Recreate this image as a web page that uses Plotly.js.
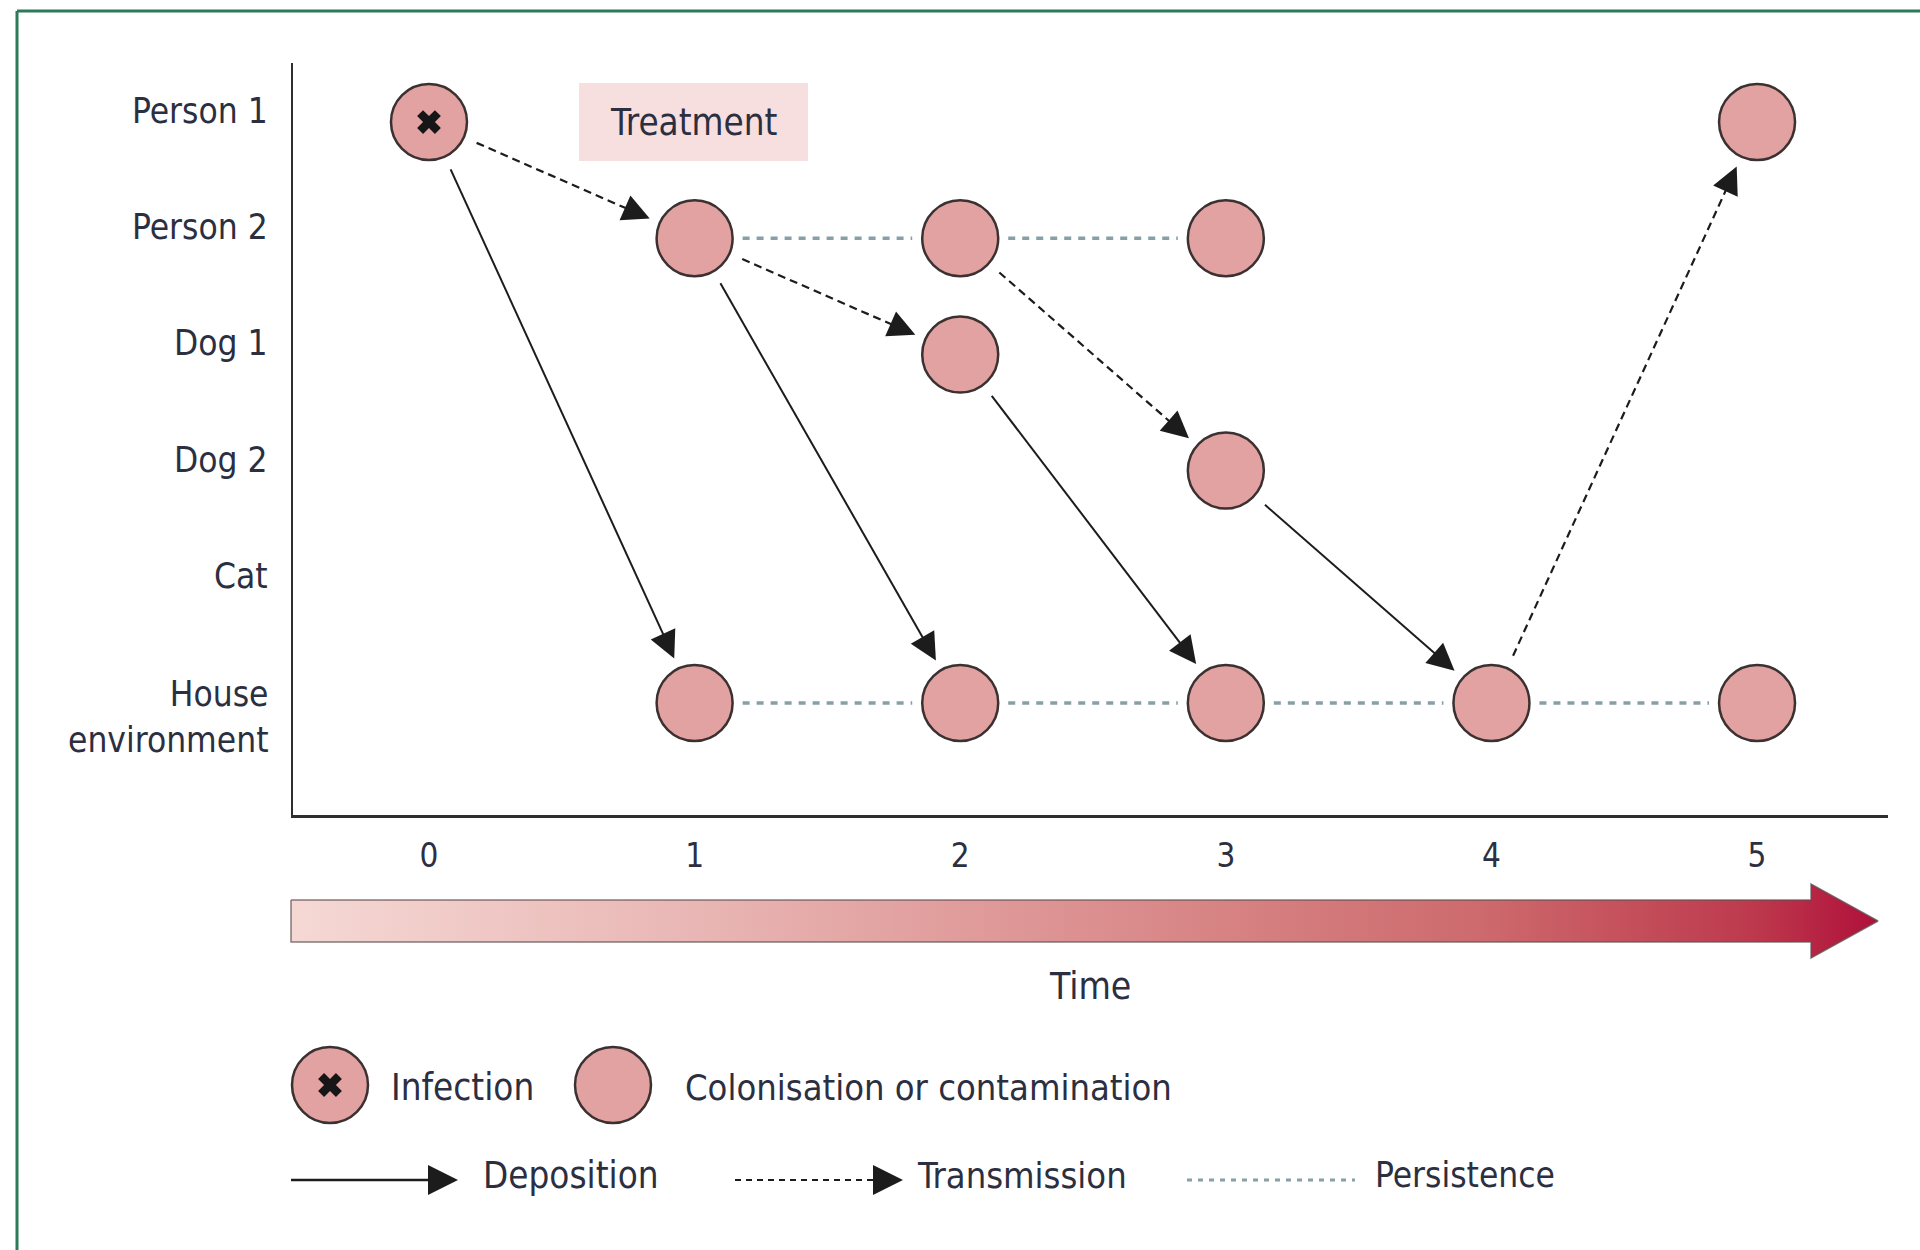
<!DOCTYPE html>
<html>
<head>
<meta charset="utf-8">
<script src="https://cdn.plot.ly/plotly-3.0.1.min.js"></script>
<style>
  html, body { margin: 0; padding: 0; background: #ffffff; }
  #chart { width: 1920px; height: 1250px; }
</style>
</head>
<body>
<div id="chart"></div>
<script>
// ---------------- DATA ----------------
const timePoints = [0, 1, 2, 3, 4, 5];
const timeTickLabels = ['0', '1', '2', '3', '4', '5'];
const hosts = ['Person 1', 'Person 2', 'Dog 1', 'Dog 2', 'Cat', 'House environment'];
const hostLabels = ['Person 1', 'Person 2', 'Dog 1', 'Dog 2', 'Cat', 'House<br>environment'];

// Infection nodes
const infectionHost = ['Person 1'];
const infectionTime = [0];

// Colonisation or contamination nodes
const colonisationHost = ['Person 1', 'Person 2', 'Person 2', 'Person 2', 'Dog 1', 'Dog 2',
  'House environment', 'House environment', 'House environment', 'House environment', 'House environment'];
const colonisationTime = [5, 1, 2, 3, 2, 3, 1, 2, 3, 4, 5];

// Deposition (solid arrows)
const depositionFromHost = ['Person 1', 'Person 2', 'Dog 1', 'Dog 2'];
const depositionFromTime = [0, 1, 2, 3];
const depositionToHost = ['House environment', 'House environment', 'House environment', 'House environment'];
const depositionToTime = [1, 2, 3, 4];

// Transmission (dashed arrows)
const transmissionFromHost = ['Person 1', 'Person 2', 'Person 2', 'House environment'];
const transmissionFromTime = [0, 1, 2, 4];
const transmissionToHost = ['Person 2', 'Dog 1', 'Dog 2', 'Person 1'];
const transmissionToTime = [1, 2, 3, 5];

// Persistence (dotted, no arrow)
const persistenceHost = ['Person 2', 'Person 2', 'House environment', 'House environment', 'House environment', 'House environment'];
const persistenceFromTime = [1, 2, 1, 2, 3, 4];
const persistenceToTime = [2, 3, 2, 3, 4, 5];

// Treatment period (on Person 1 row)
const treatmentLabel = 'Treatment';
const treatmentHost = 'Person 1';
const treatmentStart = 0.565;
const treatmentEnd = 1.427;

const axisTitle = 'Time';
const legendNodeLabels = ['Infection', 'Colonisation or contamination'];
const legendEdgeLabels = ['Deposition', 'Transmission', 'Persistence'];

// ---------------- STYLE / LAYOUT ----------------
const W = 1920, H = 1250;
const X_DOMAIN = [293 / W, 1888 / W];
const X_RANGE = [-0.512, 5.493];
const Y_DOMAIN = [1 - 815 / H, 1 - 63 / H];
const Y_RANGE = [5.964, -0.508];
const pxX = (X_DOMAIN[1] - X_DOMAIN[0]) * W / (X_RANGE[1] - X_RANGE[0]);
const pxY = (Y_DOMAIN[1] - Y_DOMAIN[0]) * H / (Y_RANGE[0] - Y_RANGE[1]);

function hasFont(name) {
  const c = document.createElement('canvas').getContext('2d');
  const t = 'Colonisation or contamination 0123 Wy';
  let r = false;
  ['monospace', 'serif'].forEach(fb => {
    c.font = '40px ' + fb; const a = c.measureText(t).width;
    c.font = '40px "' + name + '", ' + fb; const b = c.measureText(t).width;
    if (Math.abs(a - b) > 0.5) r = true;
  });
  return r;
}
const FONT_CANDIDATES = ['DejaVu Sans Condensed', 'Liberation Sans Narrow', 'Roboto Condensed', 'Roboto'];
const FONT_NAME = FONT_CANDIDATES.find(hasFont) || 'Roboto';
const FONT = '"' + FONT_NAME + '", Roboto, sans-serif';
const TEXT = '#2c2f3f';

const NODE_FILL = '#e2a2a2';
const NODE_EDGE = '#3b3131';
const NODE_SIZE = 76;
const LINE_BLACK = '#1c1c1c';
const PERSIST_COLOR = '#86a0a6';

const START_GAP = 52, END_GAP = 49, HEAD_SCALE = 2.7, HEAD_W = 2;

const row = h => hosts.indexOf(h);

function unitPx(x0, y0, x1, y1, sx, sy) {
  const dx = (x1 - x0) * sx, dy = (y1 - y0) * sy;
  const L = Math.hypot(dx, dy);
  return [dx / L, dy / L];
}

// build line segments (with nulls) and arrowhead annotations
function buildEdges(x0s, y0s, x1s, y1s, sx, sy, withHead, xref, yref, headScale) {
  const xs = [], ys = [], heads = [];
  const hl = 5 * headScale * HEAD_W;
  for (let i = 0; i < x0s.length; i++) {
    const x0 = x0s[i], y0 = y0s[i], x1 = x1s[i], y1 = y1s[i];
    const [ux, uy] = unitPx(x0, y0, x1, y1, sx, sy);
    const sg = withHead ? START_GAP : 48;
    const eg = withHead ? END_GAP + hl * 0.6 : 48;
    xs.push(x0 + ux * sg / sx, x1 - ux * eg / sx, null);
    ys.push(y0 + uy * sg / sy, y1 - uy * eg / sy, null);
    if (withHead) {
      heads.push({
        x: x1, y: y1, xref: xref, yref: yref,
        ax: x1 - ux * (END_GAP + hl) / sx, ay: y1 - uy * (END_GAP + hl) / sy,
        axref: xref, ayref: yref, text: '', font: {size: 1},
        showarrow: true, arrowhead: 2, arrowsize: headScale, arrowwidth: HEAD_W,
        arrowcolor: LINE_BLACK, standoff: END_GAP
      });
    }
  }
  return {xs, ys, heads};
}

const dep = buildEdges(depositionFromTime, depositionFromHost.map(row), depositionToTime, depositionToHost.map(row), pxX, pxY, true, 'x', 'y', HEAD_SCALE);
const trn = buildEdges(transmissionFromTime, transmissionFromHost.map(row), transmissionToTime, transmissionToHost.map(row), pxX, pxY, true, 'x', 'y', HEAD_SCALE);
const per = buildEdges(persistenceFromTime, persistenceHost.map(row), persistenceToTime, persistenceHost.map(row), pxX, pxY, false, 'x', 'y', HEAD_SCALE);

const traces = [];
traces.push({type: 'scatter', mode: 'lines', x: per.xs, y: per.ys, xaxis: 'x', yaxis: 'y',
  line: {color: PERSIST_COLOR, width: 3.5, dash: '7px,7px'}, hoverinfo: 'skip'});
traces.push({type: 'scatter', mode: 'lines', x: trn.xs, y: trn.ys, xaxis: 'x', yaxis: 'y',
  line: {color: LINE_BLACK, width: 2.2, dash: '8px,5px'}, hoverinfo: 'skip'});
traces.push({type: 'scatter', mode: 'lines', x: dep.xs, y: dep.ys, xaxis: 'x', yaxis: 'y',
  line: {color: LINE_BLACK, width: 2}, hoverinfo: 'skip'});
traces.push({type: 'scatter', mode: 'markers', x: colonisationTime.concat(infectionTime),
  y: colonisationHost.concat(infectionHost).map(row), xaxis: 'x', yaxis: 'y', cliponaxis: false,
  marker: {size: NODE_SIZE, color: NODE_FILL, line: {color: NODE_EDGE, width: 2.5}}, hoverinfo: 'skip'});
traces.push({type: 'scatter', mode: 'markers', x: infectionTime, y: infectionHost.map(row), xaxis: 'x', yaxis: 'y',
  marker: {size: 21, symbol: 'x', color: '#161616', line: {width: 0}}, hoverinfo: 'skip'});

// ---- overlay pixel axes (x3/y3) for time arrow and legend ----
const arrowPts = {x: [291, 1811, 1811, 1878, 1811, 1811, 291, 291],
                  y: [900, 900, 884, 921, 958, 942, 942, 900]};
traces.push({type: 'scatter', mode: 'lines', x: arrowPts.x, y: arrowPts.y, xaxis: 'x3', yaxis: 'y3',
  fill: 'toself', fillgradient: {type: 'horizontal',
    colorscale: [[0, '#f5d8d4'], [0.25, '#e9b7b5'], [0.5, '#dc9090'], [0.75, '#cd6a6d'], [0.92, '#bd3a4d'], [1, '#b0103a']]},
  line: {color: 'rgba(95,80,80,0.75)', width: 1.5}, hoverinfo: 'skip'});

// legend nodes
const LEG_Y1 = 1085, LEG_Y2 = 1180;
const legendNodeX = [330, 613];
traces.push({type: 'scatter', mode: 'markers', x: legendNodeX, y: [LEG_Y1, LEG_Y1], xaxis: 'x3', yaxis: 'y3',
  marker: {size: NODE_SIZE, color: NODE_FILL, line: {color: NODE_EDGE, width: 2.5}}, hoverinfo: 'skip'});
traces.push({type: 'scatter', mode: 'markers', x: [legendNodeX[0]], y: [LEG_Y1], xaxis: 'x3', yaxis: 'y3',
  marker: {size: 21, symbol: 'x', color: '#161616', line: {width: 0}}, hoverinfo: 'skip'});

// legend edges
const legDep = buildEdges([291], [LEG_Y2], [458 + END_GAP], [LEG_Y2], 1, 1, true, 'x3', 'y3', 3);
const legTrn = buildEdges([735], [LEG_Y2], [903 + END_GAP], [LEG_Y2], 1, 1, true, 'x3', 'y3', 3);
legDep.xs[0] = 291; legTrn.xs[0] = 735;
traces.push({type: 'scatter', mode: 'lines', x: legDep.xs, y: legDep.ys, xaxis: 'x3', yaxis: 'y3',
  line: {color: LINE_BLACK, width: 2.5}, hoverinfo: 'skip'});
traces.push({type: 'scatter', mode: 'lines', x: legTrn.xs, y: legTrn.ys, xaxis: 'x3', yaxis: 'y3',
  line: {color: LINE_BLACK, width: 2.2, dash: '6px,5px'}, hoverinfo: 'skip'});
traces.push({type: 'scatter', mode: 'lines', x: [1187, 1355], y: [LEG_Y2, LEG_Y2], xaxis: 'x3', yaxis: 'y3',
  line: {color: PERSIST_COLOR, width: 3, dash: '5px,6px'}, hoverinfo: 'skip'});

// ---------------- ANNOTATIONS ----------------
const annotations = [];
hostLabels.forEach((lab, i) => {
  const multi = lab.indexOf('<br>') >= 0;
  annotations.push({x: 270 / W, xref: 'paper', xanchor: 'right', y: i, yref: 'y', yanchor: 'middle',
    yshift: multi ? -14 : 11, text: lab, showarrow: false, align: 'right',
    font: {family: FONT, size: 35, color: TEXT}});
});
annotations.push({x: (treatmentStart + treatmentEnd) / 2, y: row(treatmentHost), xref: 'x', yref: 'y',
  text: treatmentLabel, showarrow: false, font: {family: FONT, size: 36.5, color: TEXT}});
annotations.push({x: 1090, y: 986, xref: 'x3', yref: 'y3', text: axisTitle, showarrow: false,
  font: {family: FONT, size: 37, color: TEXT}});
annotations.push({x: 389, y: 1087, xref: 'x3', yref: 'y3', xanchor: 'left', text: legendNodeLabels[0], showarrow: false,
  font: {family: FONT, size: 36.5, color: TEXT}});
annotations.push({x: 683, y: 1087, xref: 'x3', yref: 'y3', xanchor: 'left', text: legendNodeLabels[1], showarrow: false,
  font: {family: FONT, size: 36, color: TEXT}});
annotations.push({x: 481, y: 1175, xref: 'x3', yref: 'y3', xanchor: 'left', text: legendEdgeLabels[0], showarrow: false,
  font: {family: FONT, size: 36.5, color: TEXT}});
annotations.push({x: 915, y: 1175, xref: 'x3', yref: 'y3', xanchor: 'left', text: legendEdgeLabels[1], showarrow: false,
  font: {family: FONT, size: 36, color: TEXT}});
annotations.push({x: 1373, y: 1175, xref: 'x3', yref: 'y3', xanchor: 'left', text: legendEdgeLabels[2], showarrow: false,
  font: {family: FONT, size: 35, color: TEXT}});
dep.heads.concat(trn.heads, legDep.heads, legTrn.heads).forEach(a => annotations.push(a));

// ---------------- SHAPES ----------------
const shapes = [
  {type: 'rect', xref: 'x', yref: 'y', x0: treatmentStart, x1: treatmentEnd,
   y0: row(treatmentHost) - 0.336, y1: row(treatmentHost) + 0.336,
   fillcolor: '#f7dfdf', line: {width: 0}, layer: 'below'},
  {type: 'line', xref: 'paper', yref: 'paper', x0: 17 / W, x1: 1, y0: 1 - 11 / H, y1: 1 - 11 / H,
   line: {color: '#2d7a58', width: 3}},
  {type: 'line', xref: 'paper', yref: 'paper', x0: 17 / W, x1: 17 / W, y0: 0, y1: 1 - 11 / H,
   line: {color: '#2d7a58', width: 3}}
];

const layout = {
  width: W, height: H,
  margin: {l: 0, r: 0, t: 0, b: 0, pad: 0},
  paper_bgcolor: '#ffffff', plot_bgcolor: 'rgba(0,0,0,0)',
  showlegend: false, hovermode: false,
  font: {family: FONT, color: TEXT},
  xaxis: {domain: X_DOMAIN, range: X_RANGE, anchor: 'y', showgrid: false, zeroline: false,
    showline: true, linecolor: '#2e2e2e', linewidth: 3, ticks: '',
    tickmode: 'array', tickvals: timePoints, ticktext: timeTickLabels,
    tickfont: {family: FONT, size: 33, color: TEXT}, ticklabelstandoff: 9, fixedrange: true},
  yaxis: {domain: Y_DOMAIN, range: Y_RANGE, anchor: 'x', showgrid: false, zeroline: false,
    showline: true, linecolor: '#2e2e2e', linewidth: 2.5, ticks: '', showticklabels: false, fixedrange: true},
  xaxis3: {domain: [0, 1], range: [0, W], anchor: 'y3', visible: false, fixedrange: true},
  yaxis3: {domain: [0, 1], range: [H, 0], anchor: 'x3', visible: false, fixedrange: true},
  annotations: annotations,
  shapes: shapes
};

Plotly.newPlot('chart', traces, layout, {displayModeBar: false, staticPlot: true});
</script>
</body>
</html>
